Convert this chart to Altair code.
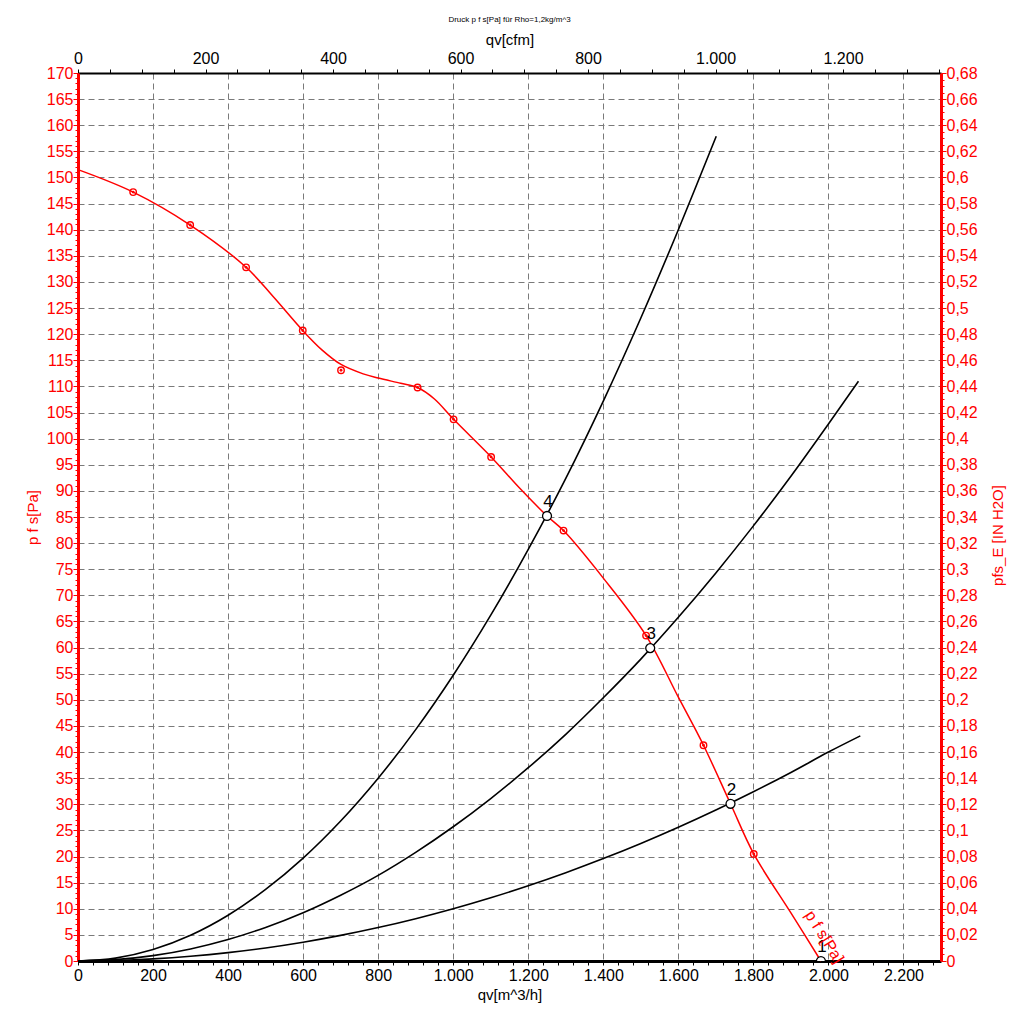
import altair as alt
import pandas as pd

# ---------------- data ----------------
# fan curve (red line), qv [m^3/h] vs p f s [Pa]
fan_q = [0, 147, 299, 448, 520, 599, 650, 701, 760, 800, 860, 905, 950, 1001,
         1101, 1180, 1250, 1294, 1400, 1514, 1600, 1667, 1739, 1801, 1900, 1980]
fan_p = [151.5, 147.2, 140.9, 132.8, 127.2, 120.7, 117.0, 114.2, 112.4, 111.6, 110.6,
         109.8, 107.6, 103.7, 96.5, 90.3, 85.2, 82.4, 73.3, 62.3, 50.5, 41.3,
         30.1, 20.5, 9.2, 0.0]

# measured points on the fan curve (red rings)
mk_q = [147, 299, 448, 599, 701, 905, 1001, 1101, 1294, 1514, 1667, 1801]
mk_p = [147.2, 140.9, 132.8, 120.7, 113.1, 109.8, 103.7, 96.5, 82.4, 62.3, 41.3, 20.5]

# system curves (black)
sysA_q = [0, 100, 200, 300, 400, 500, 600, 700, 800, 900, 1000, 1100, 1200, 1300,
          1400, 1500, 1600, 1701]
sysA_p = [0, 0.55, 2.19, 4.92, 8.75, 13.7, 19.7, 26.8, 35.0, 44.3, 54.7, 66.2, 78.8,
          92.4, 107.2, 123.1, 140.0, 157.9]
sysB_q = [0, 100, 200, 300, 400, 500, 600, 700, 800, 900, 1000, 1100, 1200, 1300,
          1400, 1500, 1600, 1700, 1800, 1900, 2000, 2080]
sysB_p = [0, 0.26, 1.03, 2.31, 4.11, 6.43, 9.25, 12.6, 16.4, 20.8, 25.7, 31.1, 37.0, 43.4,
          50.4, 57.8, 65.8, 74.3, 83.3, 92.8, 102.8, 111.0]
sysC_q = [0, 100, 200, 300, 400, 500, 600, 700, 800, 900, 1000, 1100, 1200, 1300,
          1400, 1500, 1600, 1700, 1800, 1900, 2000, 2085]
sysC_p = [0, 0.1, 0.4, 0.9, 1.6, 2.5, 3.6, 4.9, 6.4, 8.1, 10.0, 12.1, 14.4, 16.9,
          19.6, 22.5, 25.6, 28.9, 32.4, 36.1, 40.0, 43.1]

# operating points
op_q = [1980, 1739, 1525, 1250]
op_p = [0.0, 30.1, 59.9, 85.2]
op_label = ["1", "2", "3", "4"]

curve_label = "p f s[Pa]"
curve_label_q = [1989]
curve_label_p = [4.6]

chart_title = "Druck p f s[Pa] für Rho=1,2kg/m^3"
x_title = "qv[m^3/h]"
x2_title = "qv[cfm]"
y_title = "p f s[Pa]"
y2_title = "pfs_E [IN H2O]"

x_ticks = list(range(0, 2300, 40))
y_ticks = list(range(0, 171))
cfm_ticks = list(range(0, 1351, 50))
inh_ticks = [round(i * 0.005, 3) for i in range(137)]

# ---------------- styling ----------------
RED = "#ff0000"
FONT = "Liberation Sans"
GRID = "#7a7a7a"
W, H = 863, 888

fan_df = pd.DataFrame({"q": fan_q, "p": fan_p})
mk_df = pd.DataFrame({"q": mk_q, "p": mk_p})
sys_df = pd.concat([
    pd.DataFrame({"q": sysA_q, "p": sysA_p, "curve": "A"}),
    pd.DataFrame({"q": sysB_q, "p": sysB_p, "curve": "B"}),
    pd.DataFrame({"q": sysC_q, "p": sysC_p, "curve": "C"}),
])
op_df = pd.DataFrame({"q": op_q, "p": op_p, "label": op_label})
lbl_df = pd.DataFrame({"q": curve_label_q, "p": curve_label_p, "t": [curve_label]})

x_main = alt.X(
    "q:Q",
    scale=alt.Scale(domain=[0, 2300], nice=False, zero=False),
    axis=alt.Axis(
        orient="bottom", values=x_ticks, title=x_title,
        labelExpr="datum.value % 200 === 0 ? replace(format(datum.value, ','), ',', '.') : ''",
        grid=True, gridColor=GRID, gridDash=[6, 4], gridWidth=1,
        gridOpacity={"condition": {"test": "datum.value % 200 === 0 && datum.value > 0", "value": 1}, "value": 0},
        domainColor="black", domainWidth=3, tickColor="black", tickSize=4, tickWidth=1,
        labelColor="black", labelFont=FONT, labelFontSize=16, labelPadding=2,
        labelOverlap=False, labelFlush=False,
        titleFont=FONT, titleFontSize=15, titleFontWeight="normal", titleColor="black",
        titlePadding=4,
    ),
)
y_main = alt.Y(
    "p:Q",
    scale=alt.Scale(domain=[0, 170], nice=False, zero=False),
    axis=alt.Axis(
        orient="left", values=y_ticks, title=y_title,
        labelExpr="datum.value % 5 === 0 ? '' + datum.value : ''",
        grid=True, gridColor=GRID, gridDash=[6, 4], gridWidth=1,
        gridOpacity={"condition": {"test": "datum.value % 5 === 0 && datum.value > 0 && datum.value < 170", "value": 1}, "value": 0},
        domainColor=RED, domainWidth=3, tickColor=RED, tickWidth=1,
        tickSize={"condition": {"test": "datum.value % 5 === 0", "value": 5}, "value": 3},
        labelColor=RED, labelFont=FONT, labelFontSize=16, labelPadding=0,
        labelOverlap=False, labelFlush=False, labelBaseline="middle",
        titleFont=FONT, titleFontSize=15, titleFontWeight="normal", titleColor=RED,
        titlePadding=6,
    ),
)
x_top = alt.X(
    "cfm:Q",
    scale=alt.Scale(domain=[0, 1353.7], nice=False, zero=False),
    axis=alt.Axis(
        orient="top", values=cfm_ticks, title=x2_title,
        labelExpr="datum.value % 200 === 0 ? replace(format(datum.value, ','), ',', '.') : ''",
        grid=False, domainColor="black", domainWidth=2, tickColor="black", tickSize=4,
        labelColor="black", labelFont=FONT, labelFontSize=16, labelPadding=3,
        labelOverlap=False, labelFlush=False,
        titleFont=FONT, titleFontSize=15, titleFontWeight="normal", titleColor="black",
        titlePadding=3,
    ),
)
y_right = alt.Y(
    "inh:Q",
    scale=alt.Scale(domain=[0, 0.68], nice=False, zero=False),
    axis=alt.Axis(
        orient="right", values=inh_ticks, title=y2_title,
        labelExpr="round(datum.value * 1000) % 20 === 0 ? replace(format(datum.value, '.2~f'), '.', ',') : ''",
        grid=False, domainColor=RED, domainWidth=3, tickColor=RED, tickWidth=1,
        tickSize={"condition": {"test": "round(datum.value * 1000) % 20 === 0", "value": 5}, "value": 3},
        labelColor=RED, labelFont=FONT, labelFontSize=16, labelPadding=0,
        labelOverlap=False, labelFlush=False, labelBaseline="middle",
        titleFont=FONT, titleFontSize=15, titleFontWeight="normal", titleColor=RED,
        titleAngle=270, titleX=56, titleY=H / 2 + 18, titleAlign="center",
        titleBaseline="middle",
    ),
)

fan_line = alt.Chart(fan_df).mark_line(color=RED, strokeWidth=1.5, interpolate="catmull-rom").encode(x=x_main, y=y_main)
sys_lines = alt.Chart(sys_df).mark_line(color="black", strokeWidth=1.6, interpolate="catmull-rom").encode(
    x=x_main, y=y_main, detail="curve:N")
rings = alt.Chart(mk_df).mark_point(shape="circle", size=42, stroke=RED, strokeWidth=1.4,
                                    filled=False, opacity=1).encode(x=x_main, y=y_main)
dots = alt.Chart(mk_df).mark_point(shape="circle", size=8, filled=True, color=RED,
                                   opacity=1).encode(x=x_main, y=y_main)
ops = alt.Chart(op_df).mark_point(shape="circle", size=80, filled=True, fill="white",
                                  stroke="black", strokeWidth=1.3, opacity=1, clip=True).encode(x=x_main, y=y_main)
op_text = alt.Chart(op_df).mark_text(dy=-14, dx=1, fontSize=17, font=FONT, color="black").encode(
    x=x_main, y=y_main, text="label:N")
curve_text = alt.Chart(lbl_df).mark_text(angle=58, fontSize=16, font=FONT, color=RED,
                                         align="center", baseline="middle").encode(
    x=x_main, y=y_main, text="t:N")

main = alt.layer(sys_lines, fan_line, rings, dots, ops, op_text, curve_text)

axis_df = pd.DataFrame({"cfm": [0, 1353.7], "inh": [0, 0.68]})
secondary = alt.Chart(axis_df).mark_point(opacity=0).encode(x=x_top, y=y_right)

chart = alt.layer(main, secondary).resolve_scale(x="independent", y="independent").properties(
    width=W, height=H,
    autosize=alt.AutoSizeParams(type="none"),
    padding={"left": 70, "top": 65, "right": 75, "bottom": 50},
    title=alt.TitleParams(chart_title, fontSize=8, fontWeight="normal", font=FONT,
                          color="black", anchor="middle", offset=8),
).configure_view(strokeWidth=0).configure(background="white")

chart.save("out.html", embed_options={"renderer": "svg", "actions": False})
